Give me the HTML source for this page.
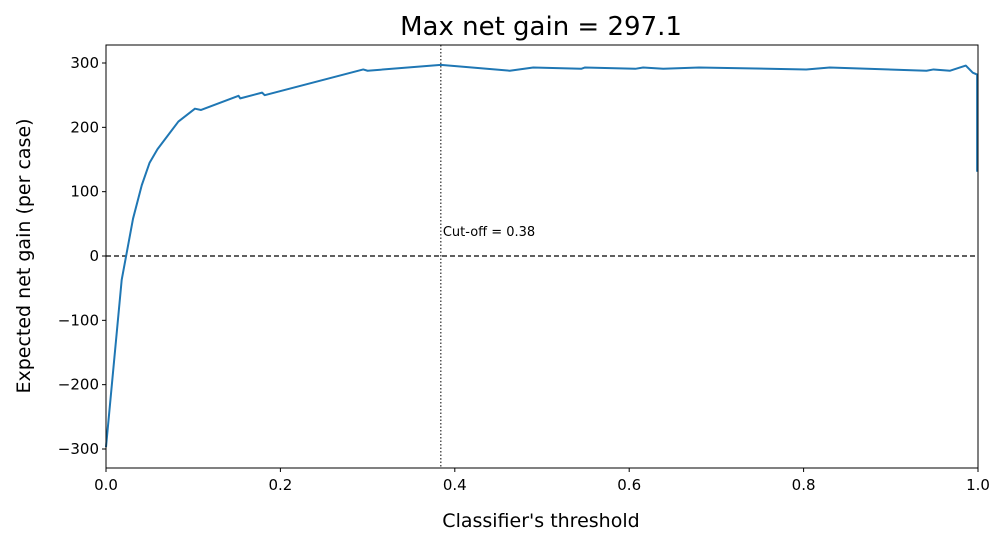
<!DOCTYPE html>
<html><head><meta charset="utf-8"><style>
body{margin:0;background:#fff;font-family:"Liberation Sans","DejaVu Sans",sans-serif;}
svg{display:block}
</style></head><body>
<svg id="chart" width="999" height="542" xmlns="http://www.w3.org/2000/svg">
<text x="541" y="35" text-anchor="middle" font-size="26" font-family="DejaVu Sans,Liberation Sans,sans-serif">Max net gain = 297.1</text>
<text x="541" y="527" text-anchor="middle" font-size="19" font-family="DejaVu Sans,Liberation Sans,sans-serif">Classifier's threshold</text>
<text transform="translate(30,256) rotate(-90)" text-anchor="middle" font-size="19" font-family="DejaVu Sans,Liberation Sans,sans-serif">Expected net gain (per case)</text>
<g id="ticks"></g>
<g id="plot"></g>
<rect x="106" y="45" width="872" height="423" fill="none" stroke="#000" stroke-width="1"/>
</svg>
<script>
const xs=[0,0.018,0.031,0.041,0.050,0.059,0.083,0.102,0.109,0.152,0.154,0.179,0.182,0.295,0.30,0.384,0.463,0.49,0.545,0.549,0.607,0.616,0.639,0.68,0.803,0.83,0.941,0.949,0.968,0.986,0.994,0.999,0.999];
const ys=[-297,-37,58,110,145,166,209,229,227,249,245,254,250,290,288,297.1,288,293,291,293,291,293,291,293,290,293,288,290,288,296,285,282,131];
const xTicks=[0,0.2,0.4,0.6,0.8,1.0];
const xTickLabels=["0.0","0.2","0.4","0.6","0.8","1.0"];
const yTicks=[-300,-200,-100,0,100,200,300];
const yTickLabels=["\u2212300","\u2212200","\u2212100","0","100","200","300"];
const cutoff=[0.384];
const NS="http://www.w3.org/2000/svg";
const X=v=>106+v*872;
const Y=v=>256-v*0.6433;
function mk(t,a,p){const e=document.createElementNS(NS,t);for(const k in a)e.setAttribute(k,a[k]);p.appendChild(e);return e;}
const tg=document.getElementById('ticks'),pg=document.getElementById('plot');
xTicks.forEach((t,i)=>{
 const l=mk('line',{x1:X(t),x2:X(t),y1:468,y2:472,stroke:'#000'},tg);
 
 
 const s=mk('text',{x:X(t),y:490,'text-anchor':'middle','font-size':15,'font-family':'DejaVu Sans,Liberation Sans,sans-serif'},tg);
 s.textContent=xTickLabels[i];
 
 
});
yTicks.forEach((t,i)=>{
 const l=mk('line',{x1:102,x2:106,y1:Y(t),y2:Y(t),stroke:'#000'},tg);
 
 
 const s=mk('text',{x:99,y:Y(t)+5,'text-anchor':'end','font-size':15,'font-family':'DejaVu Sans,Liberation Sans,sans-serif'},tg);
 s.textContent=yTickLabels[i];
 
 
});
const z=mk('line',{x1:106,x2:978,y1:Y(0),y2:Y(0),stroke:'#000','stroke-dasharray':'5,3','stroke-width':1.2},pg);


const c=mk('line',{x1:X(cutoff[0]),x2:X(cutoff[0]),y1:45,y2:468,stroke:'#000','stroke-dasharray':'1.5,2','stroke-width':1},pg);


const ct=mk('text',{x:X(cutoff[0])+2,y:236,'font-size':13,'font-family':'DejaVu Sans,Liberation Sans,sans-serif'},pg);
ct.textContent='Cut-off = '+cutoff[0].toFixed(2);


const p=mk('polyline',{points:xs.map((x,i)=>X(x)+','+Y(ys[i])).join(' '),fill:'none',stroke:'#1f77b4','stroke-width':2,'stroke-linejoin':'round'},pg);


</script>
</body></html>
